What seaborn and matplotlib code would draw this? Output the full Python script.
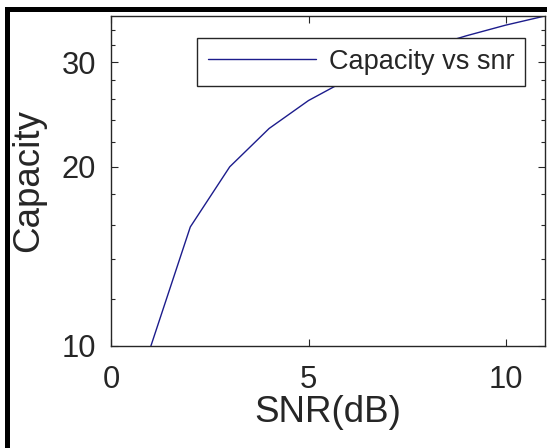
import matplotlib
matplotlib.use("Agg")
import matplotlib.pyplot as plt
import matplotlib.ticker as mticker
from matplotlib.patches import Rectangle
import seaborn as sns

# data
snr_db = [1, 2, 3, 4, 5, 6, 7, 8, 9, 10, 11]
capacity = [10.0, 15.85, 20.0, 23.2, 25.85, 28.07, 30.0, 31.7, 33.2, 34.6, 35.85]
y_major = [10, 20, 30]
y_minor = [12, 14, 16, 18, 22, 24, 26, 28, 32, 34]
x_major = [0, 5, 10]

sns.set_theme(style="ticks")
plt.rcParams['font.family'] = ['Liberation Sans', 'DejaVu Sans']

fig = plt.figure(figsize=(5.47, 4.48), dpi=100)
ax = fig.add_axes([0.2038, 0.2277, 0.7925, 0.7366])

sns.lineplot(x=snr_db, y=capacity, color='#1c1c8c', linewidth=1.0,
             label='Capacity vs snr', ax=ax)

ax.set_yscale('log')
ax.set_xlim(0, 11)
ax.set_ylim(10, 35.85)

ax.yaxis.set_major_locator(mticker.FixedLocator(y_major))
ax.yaxis.set_minor_locator(mticker.FixedLocator(y_minor))
ax.yaxis.set_major_formatter(mticker.FixedFormatter([str(v) for v in y_major]))
ax.yaxis.set_minor_formatter(mticker.NullFormatter())
ax.xaxis.set_major_locator(mticker.FixedLocator(x_major))

dark = '#262626'
for s in ax.spines.values():
    s.set_visible(True)
    s.set_color(dark)
    s.set_linewidth(1.0)

ax.tick_params(which='both', direction='in', top=True, right=True,
               colors=dark, labelsize=22.3, width=0.8)
ax.tick_params(which='major', length=5)
ax.tick_params(which='minor', length=3)
ax.tick_params(axis='x', which='major', pad=14)
ax.tick_params(axis='y', which='major', pad=11)

ax.set_xlabel('SNR(dB)', fontsize=26.5, color=dark, labelpad=0)
ax.set_ylabel('Capacity', fontsize=26.5, color=dark, labelpad=11)

leg = ax.legend(loc='upper right', bbox_to_anchor=(0.954, 0.933),
                borderaxespad=0, fontsize=19.5, handlelength=4.0,
                handletextpad=0.45, borderpad=0.4, fancybox=False,
                framealpha=1, edgecolor=dark)
leg.get_frame().set_linewidth(1.0)
for t in leg.get_texts():
    t.set_color(dark)

# black frame around the screenshot
fig.patches.append(Rectangle((7 / 547, -0.1), 1.2, (448 - 9.5) / 448 + 0.1,
                             transform=fig.transFigure, fill=False,
                             edgecolor='black', linewidth=3.6, zorder=10))

fig.savefig('out.png', dpi=100)
